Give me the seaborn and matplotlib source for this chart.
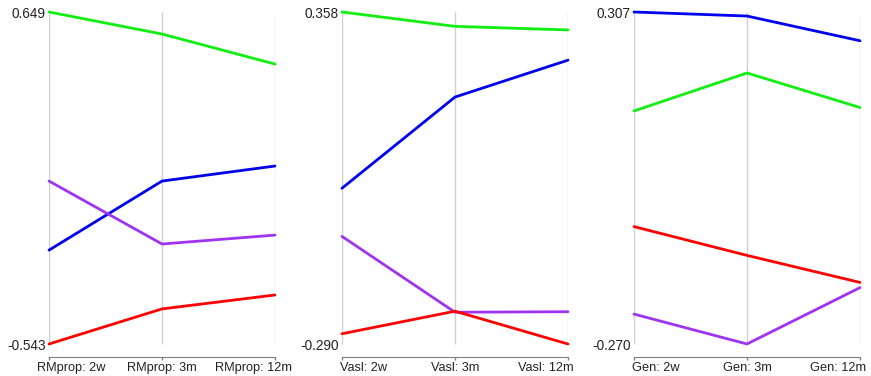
import seaborn as sns
import matplotlib.pyplot as plt
import pandas as pd
from matplotlib.transforms import ScaledTranslation

# ---- data ----
panels = ['RMprop', 'Vasl', 'Gen']
times = ['2w', '3m', '12m']
series = ['green', 'blue', 'purple', 'red']

rmprop_green = [0.649, 0.570, 0.462]
rmprop_blue = [-0.206, 0.042, 0.096]
rmprop_purple = [0.042, -0.184, -0.152]
rmprop_red = [-0.543, -0.417, -0.367]

vasl_green = [0.358, 0.330, 0.323]
vasl_blue = [0.014, 0.192, 0.264]
vasl_purple = [-0.080, -0.228, -0.227]
vasl_red = [-0.270, -0.226, -0.290]

gen_green = [0.135, 0.201, 0.141]
gen_blue = [0.307, 0.300, 0.257]
gen_purple = [-0.218, -0.270, -0.172]
gen_red = [-0.066, -0.116, -0.163]

colors = {'green': '#11ee11', 'blue': '#0000ee', 'purple': '#a033f0', 'red': '#ff0000'}

values = {
    'RMprop': [rmprop_green, rmprop_blue, rmprop_purple, rmprop_red],
    'Vasl': [vasl_green, vasl_blue, vasl_purple, vasl_red],
    'Gen': [gen_green, gen_blue, gen_purple, gen_red],
}

rows = []
for p in panels:
    for s, vals in zip(series, values[p]):
        for i, v in enumerate(vals):
            rows.append({'panel': p, 'series': s, 'pos': i, 'value': v})
df = pd.DataFrame(rows)

#%%
sns.set_style('white')
plt.rcParams['font.family'] = ['Liberation Sans', 'DejaVu Sans']

W, H = 871, 376
fig = plt.figure(figsize=(W / 100, H / 100), dpi=100)

lefts = [49, 342, 634]
for p, left in zip(panels, lefts):
    ax = fig.add_axes([left / W, (H - 357) / H, 226 / W, (357 - 12) / H])
    d = df[df.panel == p]
    vmin, vmax = d.value.min(), d.value.max()
    ax.vlines(range(3), vmin, vmax, color='#cfcfcf', lw=1, zorder=0)
    sns.lineplot(data=d, x='pos', y='value', hue='series', palette=colors,
                 lw=2, legend=False, ax=ax, zorder=3)
    for ln in ax.lines:
        ln.set_clip_on(False)
    ax.set_xlim(0, 2)
    ax.set_ylim(vmin - (vmax - vmin) * 13 / 332, vmax)
    for s in ['left', 'top', 'right']:
        ax.spines[s].set_visible(False)
    ax.spines['bottom'].set_color('#808080')
    ax.set_xlabel('')
    ax.set_ylabel('')
    ax.set_yticks([vmin, vmax])
    ax.set_yticklabels(['%.3f' % vmin, '%.3f' % vmax])
    ax.set_xticks(range(3))
    ax.set_xticklabels(['%s: %s' % (p, t) for t in times])
    ax.tick_params(axis='y', left=True, length=0, pad=2.5, labelsize=9.8, colors='#222222')
    ax.tick_params(axis='x', bottom=True, direction='out', length=2.3, width=1,
                   color='#808080', pad=1.4, labelsize=9.2, labelcolor='#222222')
    ticks = ax.xaxis.get_major_ticks()
    ticks[0].label1.set_transform(ticks[0].label1.get_transform() +
                                  ScaledTranslation(0.22, 0, fig.dpi_scale_trans))
    ticks[2].label1.set_transform(ticks[2].label1.get_transform() +
                                  ScaledTranslation(-0.22, 0, fig.dpi_scale_trans))

plt.savefig('out.png', dpi=100)
